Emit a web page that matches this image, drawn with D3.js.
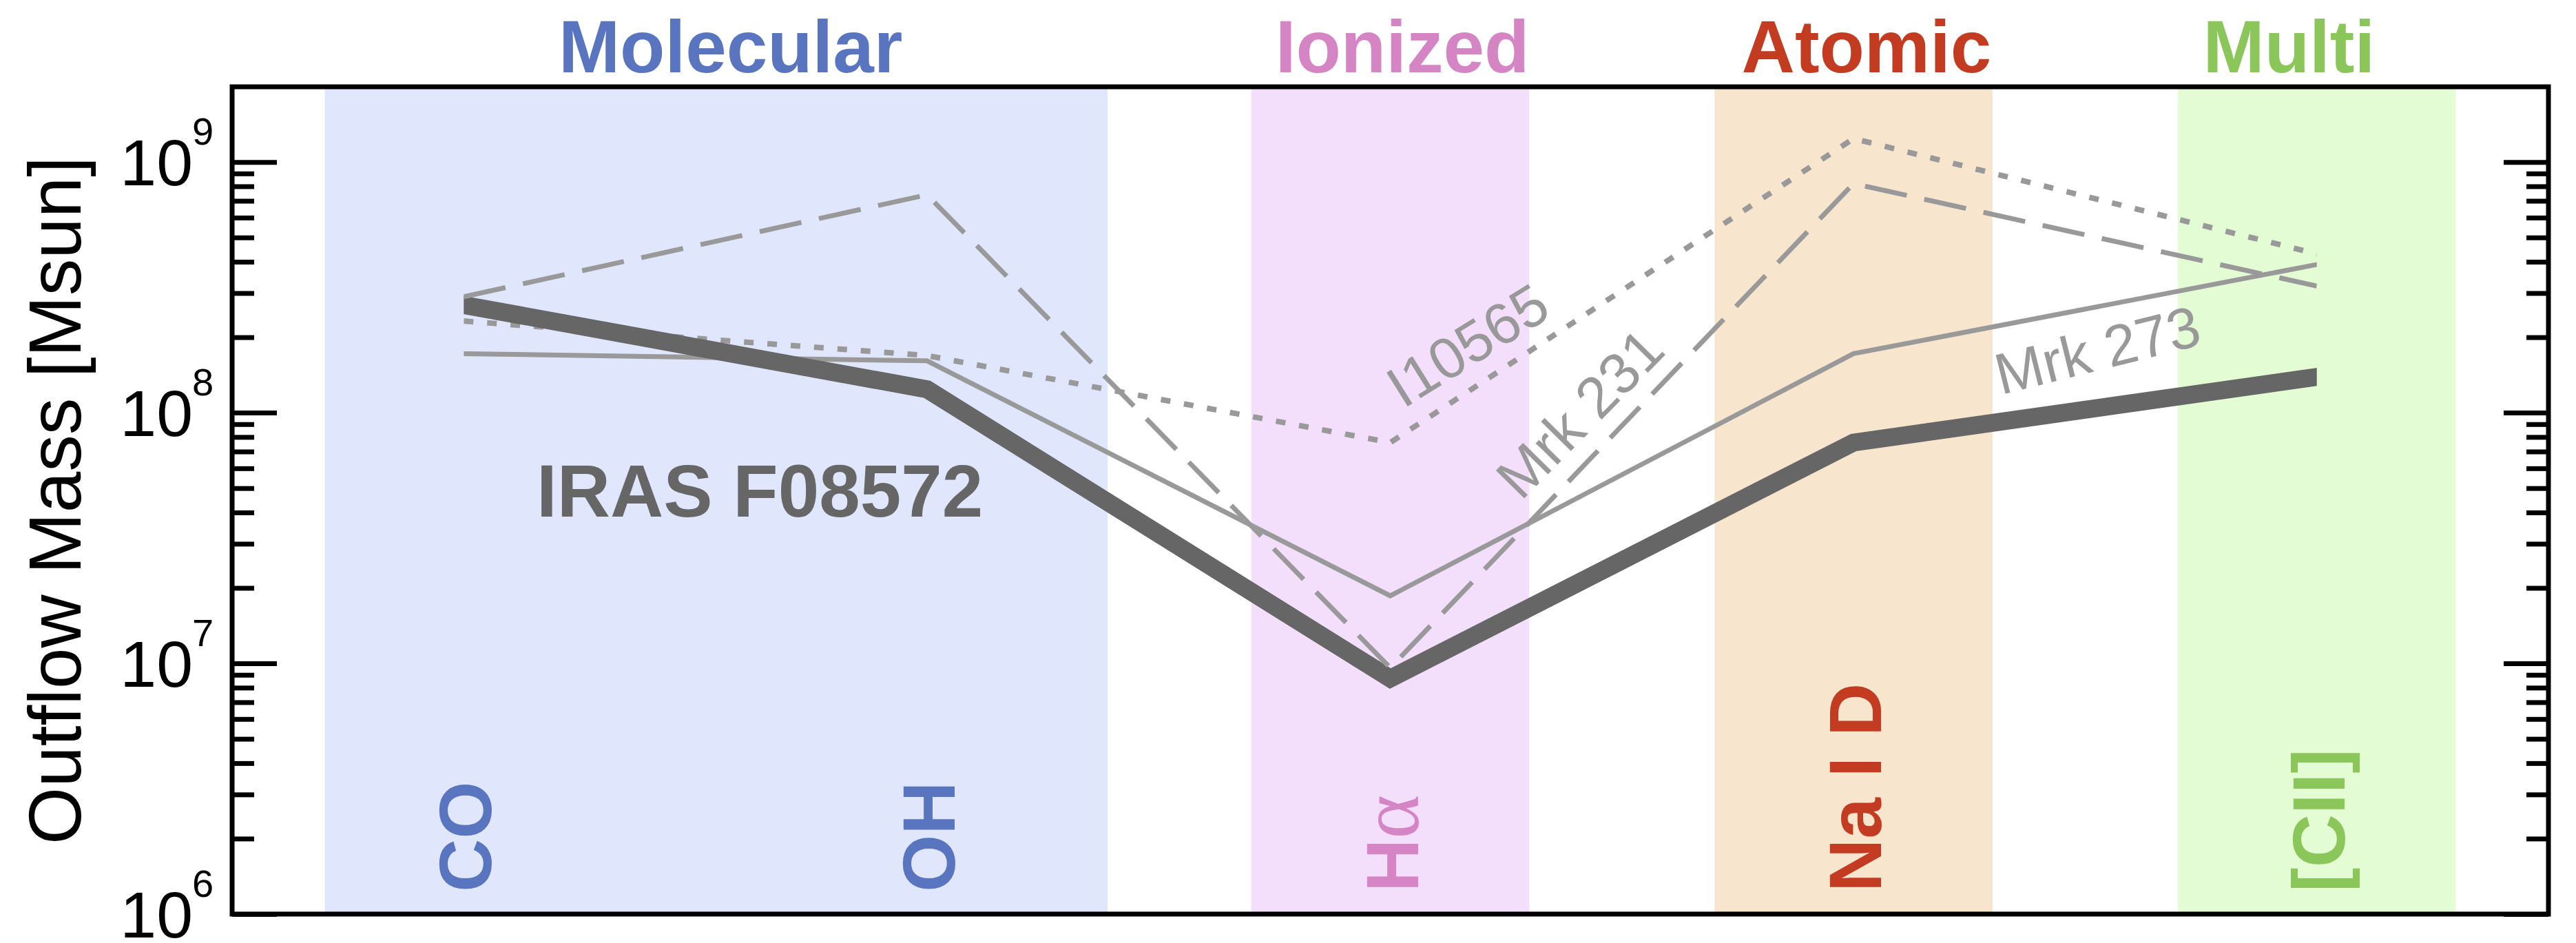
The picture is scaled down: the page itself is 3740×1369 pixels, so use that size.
<!DOCTYPE html>
<html>
<head>
<meta charset="utf-8">
<script src="https://cdn.jsdelivr.net/npm/d3@7"></script>
<style>
  html, body { margin: 0; padding: 0; background: #ffffff; }
  svg { display: block; }
</style>
</head>
<body>
<svg id="chart" width="3740" height="1369"></svg>
<script>
// ---- data ----------------------------------------------------------------
const categories = ["CO", "OH", "H\u03b1", "Na I D", "[CII]"];
const categoryGroup = [0, 0, 1, 2, 3];

const groups = ["Molecular", "Ionized", "Atomic", "Multi"];
const groupStart = [-0.3, 1.7, 2.7, 3.7];     // band extents, category units
const groupEnd = [1.39, 2.3, 3.3, 4.3];
const groupLabelAt = [0.576, 2.026, 3.028, 3.94];

// outflow masses [Msun] per tracer (CO, OH, Halpha, Na I D, [CII])
const seriesNames = ["Mrk 273", "I10565", "IRAS F08572", "Mrk 231"];
const mrk273 = [1.72e8, 1.61e8, 1.86e7, 1.72e8, 3.9e8];
const i10565 = [2.32e8, 1.69e8, 7.6e7, 1.24e9, 4.3e8];
const iras08572 = [2.69e8, 1.24e8, 8.7e6, 7.6e7, 1.39e8];
const mrk231 = [2.9e8, 7.4e8, 9.6e6, 8.2e8, 3.2e8];

// where each curve's name sits: [category position, mass, rotation]
const nameAnchors = [
  [3.526, 1.79e8, -14],
  [2.166, 1.87e8, -32],
  [0.157, 3.85e7, 0],
  [2.408, 1.0e8, -45.5]
];

const majorTicks = [1e6, 1e7, 1e8, 1e9];
const majorExponents = ["6", "7", "8", "9"];
const yMin = 1e6, yMax = Math.pow(10, 9.3);
const yTitle = "Outflow Mass [Msun]";

// ---- styles ----------------------------------------------------------------
const FONT = "'Liberation Sans', Arial, Helvetica, sans-serif";
const groupText = ["#5a75bf", "#d585c4", "#c33c22", "#8bc65a"];
const groupFill = ["#e0e6fc", "#f3dffc", "#f7e5cd", "#e3fcd3"];
const seriesStyle = [
  { stroke: "#999999", width: 7, dash: null },
  { stroke: "#999999", width: 8, dash: "14,20" },
  { stroke: "#666666", width: 26, dash: null },
  { stroke: "#999999", width: 7, dash: "62,26" }
];
const nameStyle = [
  { fill: "#999999", size: 84, weight: "normal", anchor: "middle" },
  { fill: "#999999", size: 84, weight: "normal", anchor: "middle" },
  { fill: "#666666", size: 107, weight: "bold", anchor: "start" },
  { fill: "#999999", size: 84, weight: "normal", anchor: "middle" }
];

// ---- layout ----------------------------------------------------------------
const plot = { left: 337, right: 3700, top: 126, bottom: 1327 };
const svg = d3.select("#chart");
svg.append("rect").attr("width", 3740).attr("height", 1369).attr("fill", "#fff");

const x = d3.scaleLinear().domain([-0.5, 4.5]).range([plot.left, plot.right]);
const y = d3.scaleLog().domain([yMin, yMax]).range([plot.bottom, plot.top]);

// shaded tracer bands
svg.append("g").selectAll("rect")
  .data(groups)
  .join("rect")
  .attr("x", (d, i) => x(groupStart[i]))
  .attr("width", (d, i) => x(groupEnd[i]) - x(groupStart[i]))
  .attr("y", plot.top)
  .attr("height", plot.bottom - plot.top)
  .attr("fill", (d, i) => groupFill[i]);

// phase headings above the frame
svg.append("g").selectAll("text")
  .data(groups)
  .join("text")
  .attr("x", (d, i) => x(groupLabelAt[i]))
  .attr("y", plot.top - 21)
  .attr("text-anchor", "middle")
  .attr("font-family", FONT)
  .attr("font-weight", "bold")
  .attr("font-size", 107)
  .attr("fill", (d, i) => groupText[i])
  .text(d => d);

// tracer names, written upward near the bottom of each band
svg.append("g").selectAll("text")
  .data(categories)
  .join("text")
  .attr("transform", (d, i) => `translate(${x(i) + 40},${plot.bottom - 32}) rotate(-90)`)
  .attr("text-anchor", "start")
  .attr("font-family", FONT)
  .attr("font-weight", "bold")
  .attr("font-size", 107)
  .attr("fill", (d, i) => groupText[categoryGroup[i]])
  .each(function (d) {
    const t = d3.select(this);
    if (d.indexOf("\u03b1") >= 0) {
      t.append("tspan").text(d.replace("\u03b1", ""));
      t.append("tspan")
        .attr("font-family", "'Liberation Serif', 'DejaVu Serif', serif")
        .attr("font-weight", "normal")
        .attr("font-size", 122)
        .text("\u03b1");
    } else {
      t.text(d);
    }
  });

// curves
const seriesValues = [mrk273, i10565, iras08572, mrk231];
svg.append("defs").append("clipPath").attr("id", "span")
  .append("rect")
  .attr("x", x(0)).attr("width", x(categories.length - 1) - x(0))
  .attr("y", plot.top).attr("height", plot.bottom - plot.top);

const line = d3.line().x((d, i) => x(i)).y(d => y(d));
svg.append("g").attr("clip-path", "url(#span)")
  .selectAll("path")
  .data(seriesValues)
  .join("path")
  .attr("d", d => line(d))
  .attr("fill", "none")
  .attr("stroke", (d, i) => seriesStyle[i].stroke)
  .attr("stroke-width", (d, i) => seriesStyle[i].width)
  .attr("stroke-dasharray", (d, i) => seriesStyle[i].dash)
  .attr("stroke-linejoin", "miter")
  .attr("stroke-linecap", (d, i) => seriesStyle[i].dash ? "butt" : "square");

// curve names
svg.append("g").selectAll("text")
  .data(seriesNames)
  .join("text")
  .attr("transform", (d, i) => `translate(${x(nameAnchors[i][0])},${y(nameAnchors[i][1])}) rotate(${nameAnchors[i][2]})`)
  .attr("dy", (d, i) => nameStyle[i].anchor === "middle" ? "0.36em" : 0)
  .attr("text-anchor", (d, i) => nameStyle[i].anchor)
  .attr("font-family", FONT)
  .attr("font-weight", (d, i) => nameStyle[i].weight)
  .attr("font-size", (d, i) => nameStyle[i].size)
  .attr("fill", (d, i) => nameStyle[i].fill)
  .text(d => d);

// y axes: inward ticks on both sides
const minorTicks = [];
majorTicks.forEach(m => { for (let k = 2; k <= 9; k++) { if (m * k < yMax) minorTicks.push(m * k); } });

function axisPair(axisFn, xpos) {
  const gMaj = svg.append("g").attr("transform", `translate(${xpos},0)`)
    .call(axisFn(y).tickValues(majorTicks).tickSize(-65).tickFormat(""));
  const gMin = svg.append("g").attr("transform", `translate(${xpos},0)`)
    .call(axisFn(y).tickValues(minorTicks).tickSize(-32).tickFormat(""));
  [gMaj, gMin].forEach(g => {
    g.select(".domain").remove();
    g.selectAll(".tick line").attr("stroke", "#000").attr("stroke-width", 7);
  });
}
axisPair(d3.axisLeft, plot.left);
axisPair(d3.axisRight, plot.right);

// decade labels 10^n
const tickLabels = svg.append("g").attr("font-family", FONT).attr("fill", "#000");
majorTicks.forEach((v, i) => {
  tickLabels.append("text")
    .attr("x", plot.left - 57).attr("y", y(v) + 34)
    .attr("text-anchor", "end").attr("font-size", 95)
    .text("10");
  tickLabels.append("text")
    .attr("x", plot.left - 58).attr("y", y(v) - 25)
    .attr("text-anchor", "start").attr("font-size", 56)
    .text(majorExponents[i]);
});

// axis title
svg.append("text")
  .attr("transform", `translate(117,${(plot.top + plot.bottom) / 2}) rotate(-90)`)
  .attr("text-anchor", "middle")
  .attr("font-family", FONT)
  .attr("font-size", 107)
  .attr("fill", "#000")
  .text(yTitle);

// frame
svg.append("rect")
  .attr("x", plot.left).attr("y", plot.top)
  .attr("width", plot.right - plot.left).attr("height", plot.bottom - plot.top)
  .attr("fill", "none").attr("stroke", "#000").attr("stroke-width", 7);
</script>
</body>
</html>
